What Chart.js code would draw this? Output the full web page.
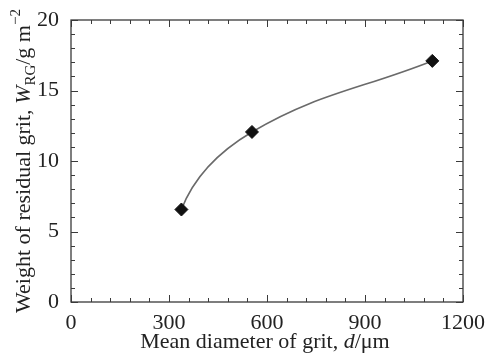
<!DOCTYPE html>
<html><head><meta charset="utf-8">
<script src="https://cdn.jsdelivr.net/npm/chart.js@4.4.0/dist/chart.umd.min.js"></script>
<style>html,body{margin:0;padding:0;background:#fff}#wrap{width:487px;height:360px}</style>
</head><body><div id="wrap"><canvas id="c" width="487" height="360"></canvas></div>
<script>
const diameters = [338, 554, 1106];
const weights = [6.56, 12.06, 17.1];
const xTicks = [0, 300, 600, 900, 1200];
const yTicks = [0, 5, 10, 15, 20];

const FONT = '"Liberation Serif", "Times New Roman", serif';
const AX = '#3a3a3a';

function drawRich(ctx, segs) {
  let total = 0;
  segs.forEach(s => { ctx.font = s.f; s.w = ctx.measureText(s.t).width; total += s.w; });
  let x = -total / 2;
  segs.forEach(s => { ctx.font = s.f; ctx.fillText(s.t, x, s.dy || 0); x += s.w; });
}

// Give the first curve segment a natural (quadratic-like) start instead of a straight chord start
const smoothStart = {
  id: 'smoothStart',
  beforeDatasetDraw(chart, args) {
    const meta = args.meta;
    const line = meta.dataset;
    if (!line || !line.updateControlPoints) return;
    line.updateControlPoints(chart.chartArea, 'x');
    const pts = meta.data;
    if (pts.length < 2) return;
    const p0 = pts[0], p1 = pts[1];
    const qx = p1.x + 1.5 * (p1.cp1x - p1.x), qy = p1.y + 1.5 * (p1.cp1y - p1.y);
    p0.cp2x = p0.x + (2 / 3) * (qx - p0.x);
    p0.cp2y = p0.y + (2 / 3) * (qy - p0.y);
  }
};

const framePlugin = {
  id: 'frame',
  afterDraw(chart) {
    const ctx = chart.ctx, a = chart.chartArea;
    const xs = chart.scales.x, ys = chart.scales.y;
    ctx.save();
    ctx.strokeStyle = AX; ctx.lineWidth = 1.3;
    ctx.strokeRect(a.left, a.top, a.right - a.left, a.bottom - a.top);
    ctx.lineWidth = 1;
    ctx.beginPath();
    for (let v = 0; v <= 1200; v += 60) {
      const p = Math.round(xs.getPixelForValue(v)) + 0.5;
      const L = xTicks.includes(v) ? 7 : 4;
      ctx.moveTo(p, a.bottom); ctx.lineTo(p, a.bottom - L);
      ctx.moveTo(p, a.top); ctx.lineTo(p, a.top + L);
    }
    for (let v = 0; v <= 20; v += 1) {
      const p = Math.round(ys.getPixelForValue(v)) + 0.5;
      const L = yTicks.includes(v) ? 7 : 4;
      ctx.moveTo(a.left, p); ctx.lineTo(a.left + L, p);
      ctx.moveTo(a.right, p); ctx.lineTo(a.right - L, p);
    }
    ctx.stroke();
    // titles
    ctx.fillStyle = '#222';
    ctx.textBaseline = 'alphabetic';
    ctx.textAlign = 'left';
    const fs = 22;
    const rom = fs + 'px ' + FONT, ita = 'italic ' + fs + 'px ' + FONT, small = '15px ' + FONT;
    ctx.save();
    ctx.translate((a.left + a.right) / 2 - 2, 348);
    drawRich(ctx, [{t: 'Mean diameter of grit, ', f: rom}, {t: 'd', f: ita}, {t: '/\u03bcm', f: rom}]);
    ctx.restore();
    ctx.save();
    ctx.translate(30, (a.top + a.bottom) / 2);
    ctx.rotate(-Math.PI / 2);
    drawRich(ctx, [{t: 'Weight of residual grit, ', f: rom}, {t: 'W', f: ita}, {t: 'RG', f: small, dy: 5},
      {t: '/g m', f: rom}, {t: '\u22122', f: small, dy: -10}]);
    ctx.restore();
    ctx.restore();
  }
};

new Chart(document.getElementById('c'), {
  type: 'scatter',
  data: {
    datasets: [{
      data: diameters.map((d, i) => ({x: d, y: weights[i]})),
      showLine: true,
      tension: 0.4,
      borderColor: '#6a6a6a',
      borderWidth: 1.6,
      pointStyle: 'rectRot',
      pointRadius: 6.5,
      pointHoverRadius: 6.5,
      pointBackgroundColor: '#111',
      pointBorderColor: '#111',
      pointBorderWidth: 1
    }]
  },
  plugins: [smoothStart, framePlugin],
  options: {
    responsive: false,
    animation: false,
    events: [],
    layout: {padding: {top: 20, right: 24, left: 0, bottom: 0}},
    plugins: {legend: {display: false}, tooltip: {enabled: false}},
    scales: {
      x: {
        type: 'linear', min: 0, max: 1200,
        afterFit(s) { s.height = 58; },
        afterBuildTicks(s) { s.ticks = xTicks.map(v => ({value: v})); },
        border: {display: false},
        grid: {display: false},
        ticks: {color: '#222', font: {family: FONT, size: 22}, padding: 0, maxRotation: 0,
          callback: v => String(v)}
      },
      y: {
        type: 'linear', min: 0, max: 20,
        afterFit(s) { s.width = 71; },
        afterBuildTicks(s) { s.ticks = yTicks.map(v => ({value: v})); },
        border: {display: false},
        grid: {display: false},
        ticks: {color: '#222', font: {family: FONT, size: 22}, padding: 4, callback: v => String(v)}
      }
    }
  }
});
</script></body></html>
